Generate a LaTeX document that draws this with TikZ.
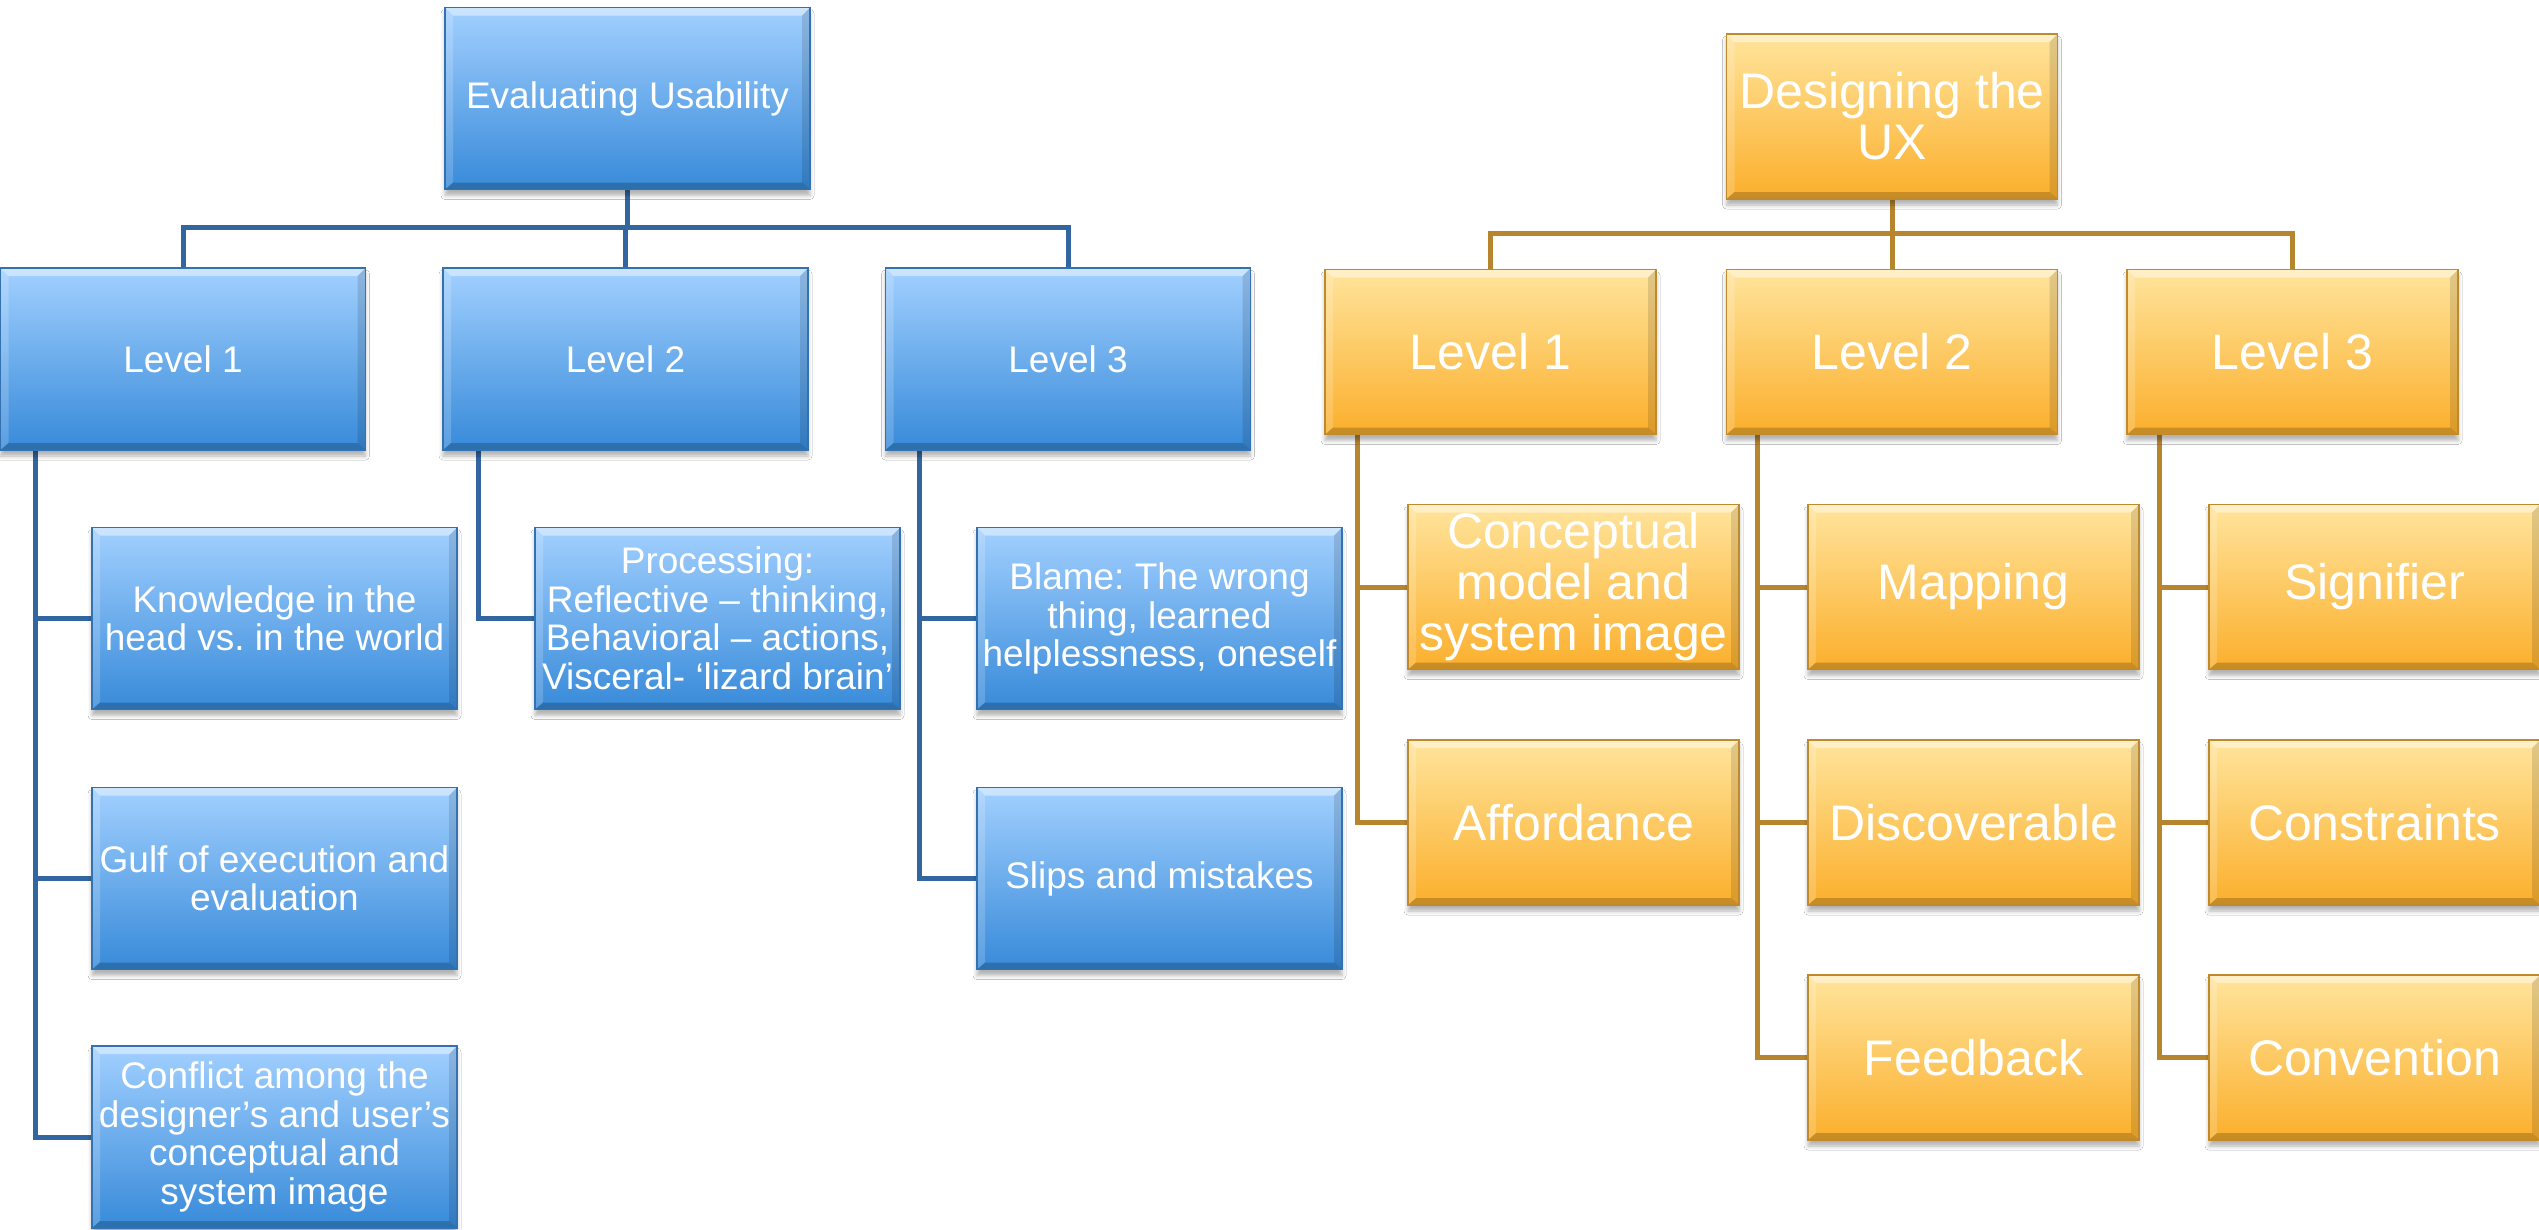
\documentclass[tikz,border=0pt]{standalone}
\usepackage{fontspec}
\setmainfont{Liberation Sans}
\usetikzlibrary{shadows.blur,backgrounds}
\frenchspacing

\definecolor{bluetop}{HTML}{A2D0FF}
\definecolor{bluebot}{HTML}{378AD9}
\definecolor{blueline}{HTML}{3166A0}
\definecolor{blueedge}{HTML}{3371B0}
\definecolor{ortop}{HTML}{FFE49C}
\definecolor{orbot}{HTML}{FBAF2C}
\definecolor{orline}{HTML}{B8852F}
\definecolor{oredge}{HTML}{BE8A2C}

\tikzset{
  bevelfx/.style={path picture={
    \fill[white,opacity=0.45] (path picture bounding box.north west) -- (path picture bounding box.north east)
      -- ([xshift=-8pt,yshift=-8pt]path picture bounding box.north east) -- ([xshift=8pt,yshift=-8pt]path picture bounding box.north west) -- cycle;
    \fill[white,opacity=0.18] (path picture bounding box.north west) -- ([xshift=8pt,yshift=-8pt]path picture bounding box.north west)
      -- ([xshift=8pt,yshift=7pt]path picture bounding box.south west) -- (path picture bounding box.south west) -- cycle;
    \fill[black,opacity=0.12] (path picture bounding box.north east) -- ([xshift=-8pt,yshift=-8pt]path picture bounding box.north east)
      -- ([xshift=-8pt,yshift=7pt]path picture bounding box.south east) -- (path picture bounding box.south east) -- cycle;
    \fill[black,opacity=0.2] (path picture bounding box.south west) -- (path picture bounding box.south east)
      -- ([xshift=-8pt,yshift=7pt]path picture bounding box.south east) -- ([xshift=8pt,yshift=7pt]path picture bounding box.south west) -- cycle;
  }},
  box/.style={rectangle, inner sep=0pt, align=center, text=white, bevelfx,
    blur shadow={shadow xshift=0pt,shadow yshift=-6pt,shadow blur radius=4pt,shadow opacity=30}},
  bluebox/.style={box, draw=blueedge, line width=1.2pt, top color=bluetop, bottom color=bluebot,
    minimum width=365pt, minimum height=182pt, font=\fontsize{37}{38.5}\selectfont},
  orbox/.style={box, draw=oredge, line width=1.2pt, top color=ortop, bottom color=orbot,
    minimum width=331pt, minimum height=165pt, font=\fontsize{50}{51}\selectfont},
  bconn/.style={draw=blueline, line width=5pt},
  oconn/.style={draw=orline, line width=5pt},
}

\begin{document}
\begin{tikzpicture}[x=1pt,y=-1pt]
\useasboundingbox (0,0) rectangle (2539,1229);

% ---------- left tree ----------
\node[bluebox] (ev) at (627.5,98.5) {Evaluating Usability};
\node[bluebox] (l1) at (183,359) {Level 1};
\node[bluebox] (l2) at (625.5,359) {Level 2};
\node[bluebox] (l3) at (1068,359) {Level 3};
\node[bluebox] (kh) at (274.5,618.5) {Knowledge in the\\head vs. in the world};
\node[bluebox] (ge) at (274.5,878.5) {Gulf of execution and\\evaluation};
\node[bluebox] (cf) at (274.5,1137) {Conflict among the\\designer’s and user’s\\conceptual and\\system image};
\node[bluebox] (pr) at (717.5,618.5) {Processing:\\Reflective – thinking,\\Behavioral – actions,\\Visceral- ‘lizard brain’};
\node[bluebox] (bl) at (1159.5,618.5) {Blame: The wrong\\thing, learned\\helplessness, oneself};
\node[bluebox] (sm) at (1159.5,878.5) {Slips and mistakes};

% ---------- right tree ----------
\node[orbox] (dx) at (1892,116.5) {Designing the\\UX};
\node[orbox] (r1) at (1490.5,352) {Level 1};
\node[orbox] (r2) at (1892,352) {Level 2};
\node[orbox] (r3) at (2292.5,352) {Level 3};
\node[orbox] (cm) at (1573.5,587) {Conceptual\\model and\\system image};
\node[orbox] (af) at (1573.5,822.5) {Affordance};
\node[orbox] (mp) at (1973.5,587) {Mapping};
\node[orbox] (dc) at (1973.5,822.5) {Discoverable};
\node[orbox] (fb) at (1973.5,1057.5) {Feedback};
\node[orbox] (sg) at (2374.5,587) {Signifier};
\node[orbox] (cs) at (2374.5,822.5) {Constraints};
\node[orbox] (cv) at (2374.5,1057.5) {Convention};

\begin{pgfonlayer}{background}
  \fill[white] (0,0) rectangle (2539,1229);
  % left connectors
  \coordinate (lbar) at ([yshift=40pt]l1.north);
  \draw[bconn] (l1.north) -- (lbar) -| (l3.north);
  \draw[bconn] (ev.south) -- (ev.south |- lbar);
  \draw[bconn] (l2.north) -- (l2.north |- lbar);
  \coordinate (v1) at ([xshift=36pt]l1.south west);
  \coordinate (v2) at ([xshift=36pt]l2.south west);
  \coordinate (v3) at ([xshift=35pt]l3.south west);
  \draw[bconn] (v1) |- (kh.west);
  \draw[bconn] (v1) |- (ge.west);
  \draw[bconn] (v1) |- (cf.west);
  \draw[bconn] (v2) |- (pr.west);
  \draw[bconn] (v3) |- (bl.west);
  \draw[bconn] (v3) |- (sm.west);
  % right connectors
  \coordinate (rbar) at ([yshift=35pt]r1.north);
  \draw[oconn] (r1.north) -- (rbar) -| (r3.north);
  \draw[oconn] (dx.south) -- (dx.south |- rbar);
  \draw[oconn] (r2.north) -- (r2.north |- rbar);
  \coordinate (w1) at ([xshift=33pt]r1.south west);
  \coordinate (w2) at ([xshift=32pt]r2.south west);
  \coordinate (w3) at ([xshift=33pt]r3.south west);
  \draw[oconn] (w1) |- (cm.west);
  \draw[oconn] (w1) |- (af.west);
  \draw[oconn] (w2) |- (mp.west);
  \draw[oconn] (w2) |- (dc.west);
  \draw[oconn] (w2) |- (fb.west);
  \draw[oconn] (w3) |- (sg.west);
  \draw[oconn] (w3) |- (cs.west);
  \draw[oconn] (w3) |- (cv.west);
\end{pgfonlayer}
\end{tikzpicture}
\end{document}
